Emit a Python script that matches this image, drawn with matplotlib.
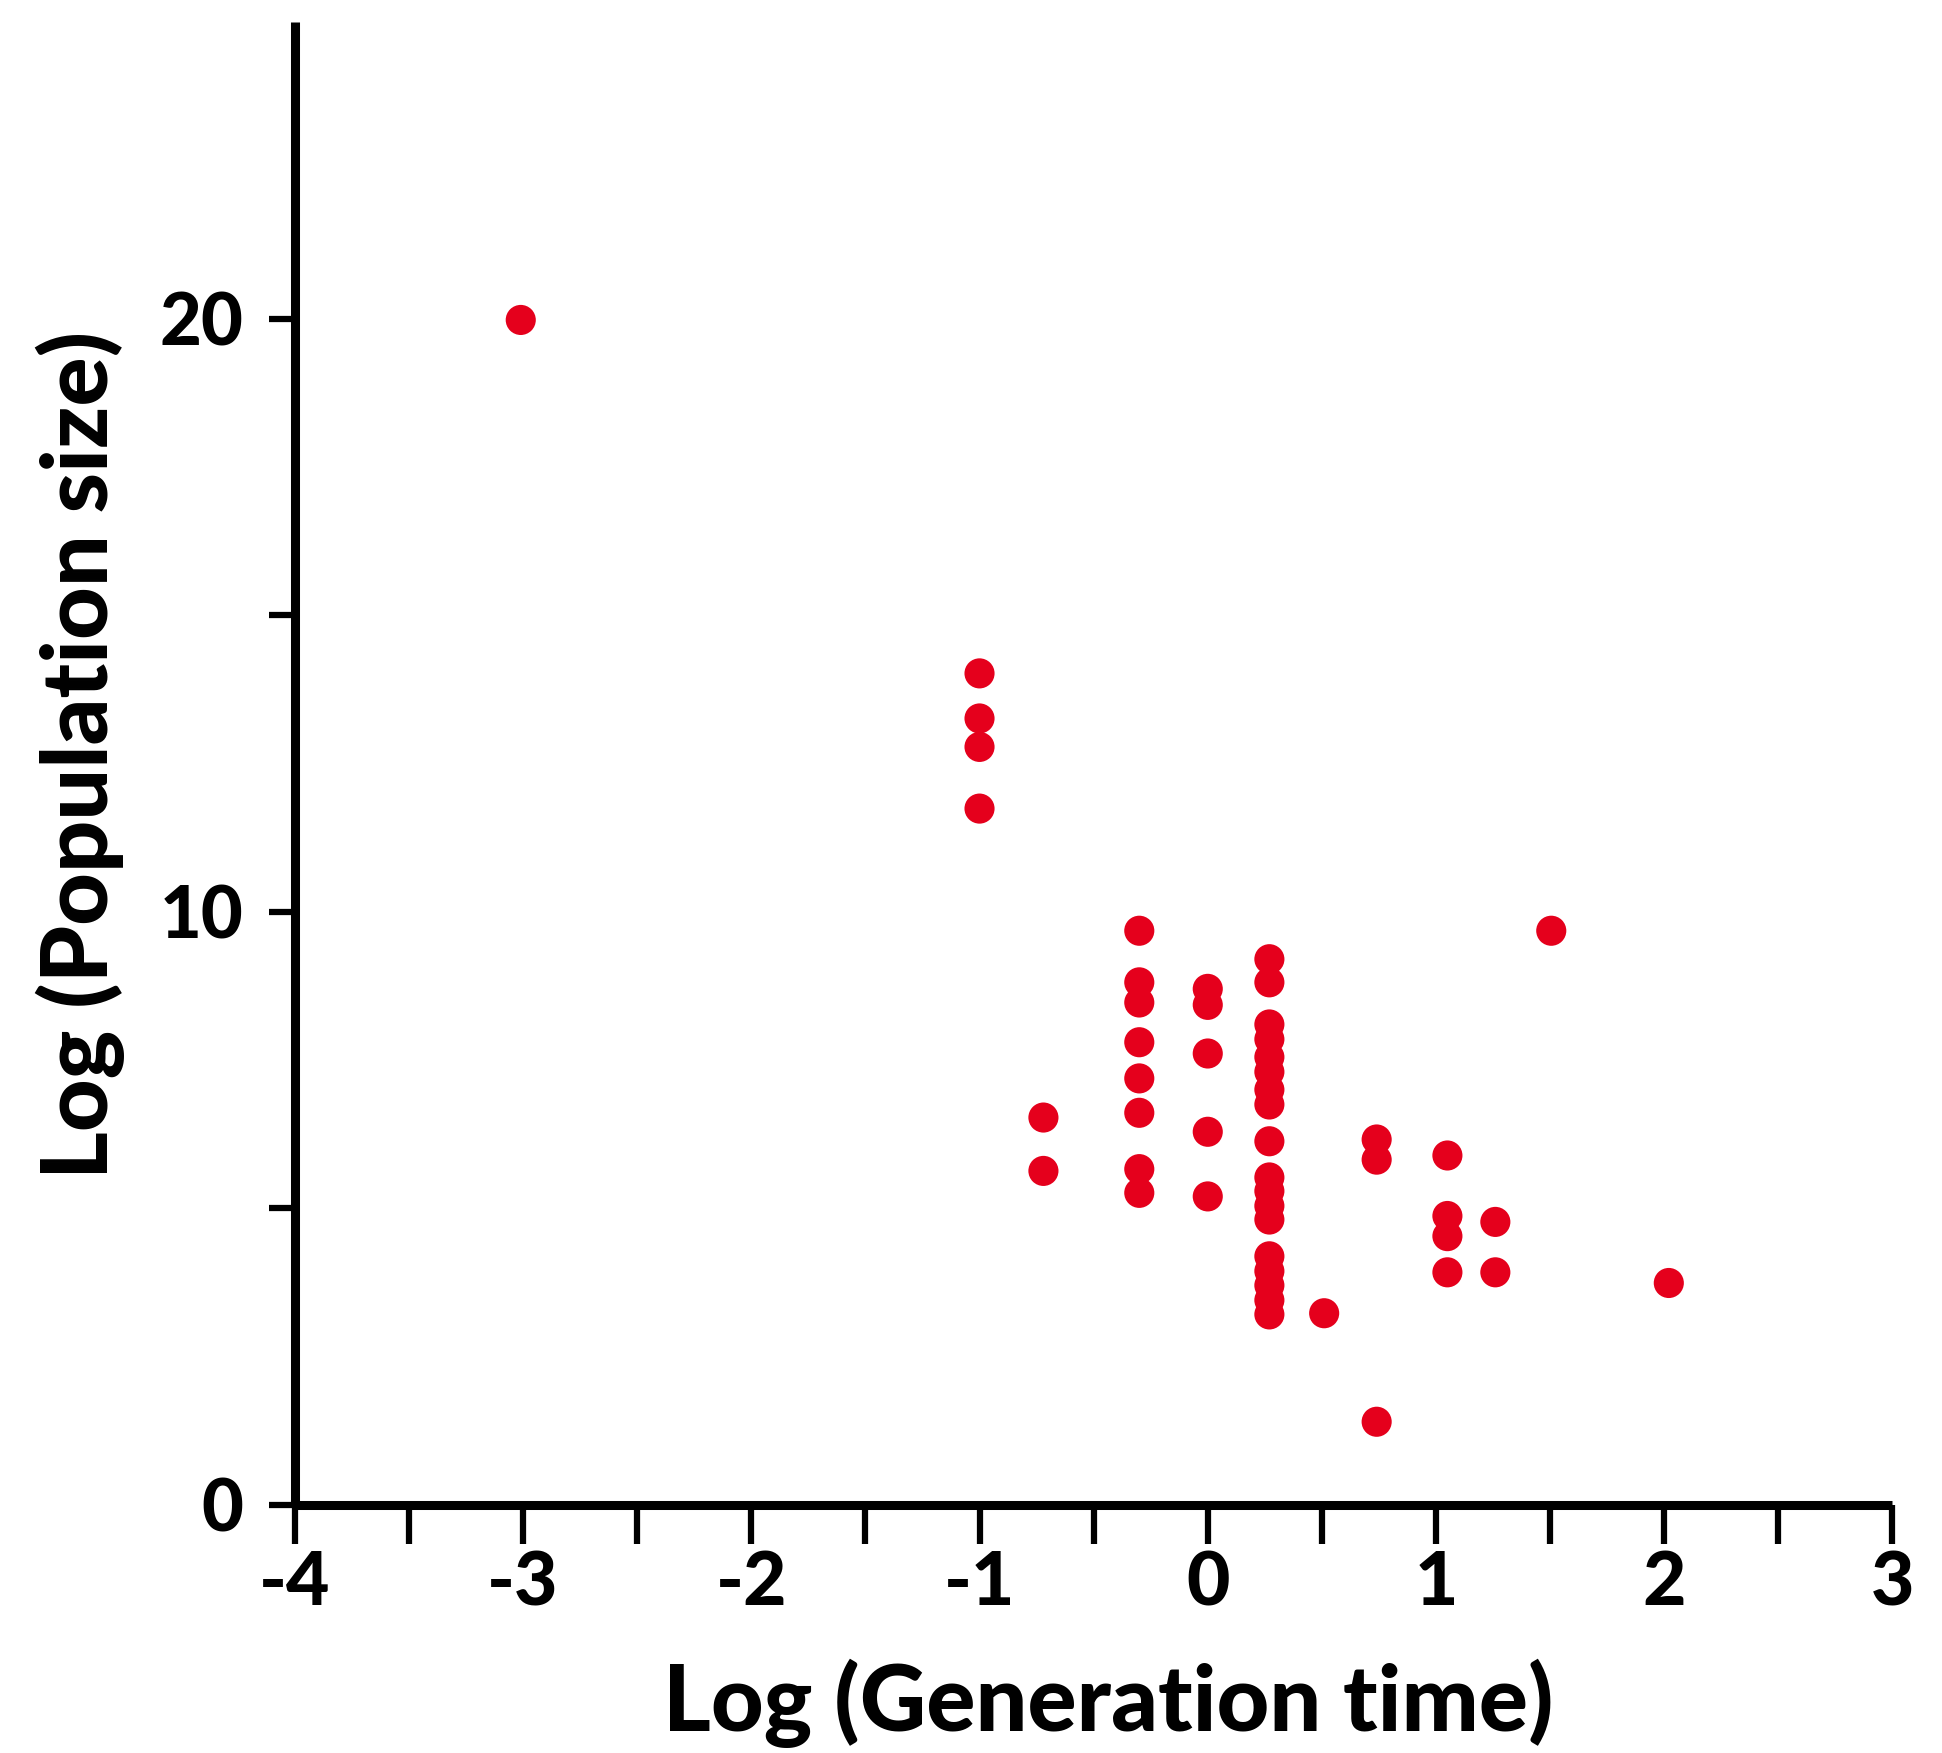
import matplotlib.pyplot as plt
from matplotlib.ticker import MultipleLocator

# log generation time (x) and log population size (y)
log_gen_time = [-3.01,
                -1.0, -1.0, -1.0, -1.0,
                -0.72, -0.72,
                -0.30, -0.30, -0.30, -0.30, -0.30, -0.30, -0.30, -0.30,
                0.0, 0.0, 0.0, 0.0, 0.0,
                0.27, 0.27, 0.27, 0.27, 0.27, 0.27, 0.27, 0.27, 0.27,
                0.27, 0.27, 0.27, 0.27, 0.27, 0.27, 0.27, 0.27, 0.27,
                0.51,
                0.74, 0.74, 0.74,
                1.05, 1.05, 1.05, 1.05,
                1.26, 1.26,
                1.505,
                2.02]
log_pop_size = [19.98,
                14.02, 13.26, 12.78, 11.74,
                6.53, 5.63,
                9.68, 8.81, 8.47, 7.80, 7.19, 6.61, 5.66, 5.26,
                8.70, 8.43, 7.61, 6.29, 5.20,
                9.20, 8.81, 8.10, 7.85, 7.55, 7.30, 7.00, 6.75, 6.13,
                5.52, 5.29, 5.04, 4.81, 4.19, 3.94, 3.70, 3.45, 3.21,
                3.23,
                6.16, 5.82, 1.40,
                5.89, 4.87, 4.53, 3.92,
                4.77, 3.92,
                9.68,
                3.74]

x_ticks = [-4, -3, -2, -1, 0, 1, 2, 3]
y_ticks = [0, 10, 20]

plt.rcParams['font.family'] = ['Lato', 'DejaVu Sans']
plt.rcParams['axes.unicode_minus'] = False

fig = plt.figure(figsize=(19.42, 17.53), dpi=100)
ax = fig.add_axes([0.1518, 0.1416, 0.8227, 0.8457])

ax.scatter(log_gen_time, log_pop_size, s=470, color='#e5001c', edgecolors='none', zorder=3)

ax.set_xlim(-4, 3)
ax.set_ylim(0, 25)

for side in ['top', 'right']:
    ax.spines[side].set_visible(False)
for side in ['left', 'bottom']:
    ax.spines[side].set_linewidth(6.5)
    ax.spines[side].set_capstyle('butt')

ax.set_xticks(x_ticks)
ax.xaxis.set_minor_locator(MultipleLocator(0.5))
ax.set_yticks(y_ticks)
ax.set_yticks([5, 15], minor=True)

ax.tick_params(axis='x', which='both', direction='out', length=28, width=4.5, pad=4, labelsize=54)
ax.tick_params(axis='y', which='both', direction='out', length=19, width=4.5, pad=18, labelsize=52)
for lbl in ax.get_xticklabels() + ax.get_yticklabels():
    lbl.set_fontweight('black')

ax.set_xlabel('Log (Generation time)', fontsize=66, fontweight='black', va='center', ha='center')
ax.xaxis.set_label_coords(0.509, -0.134)
ax.set_ylabel('Log (Population size)', fontsize=66, fontweight='black', va='center', ha='center')
ax.yaxis.set_label_coords(-0.1345, 0.506)

fig.savefig('out.png', dpi=100, facecolor='white')
